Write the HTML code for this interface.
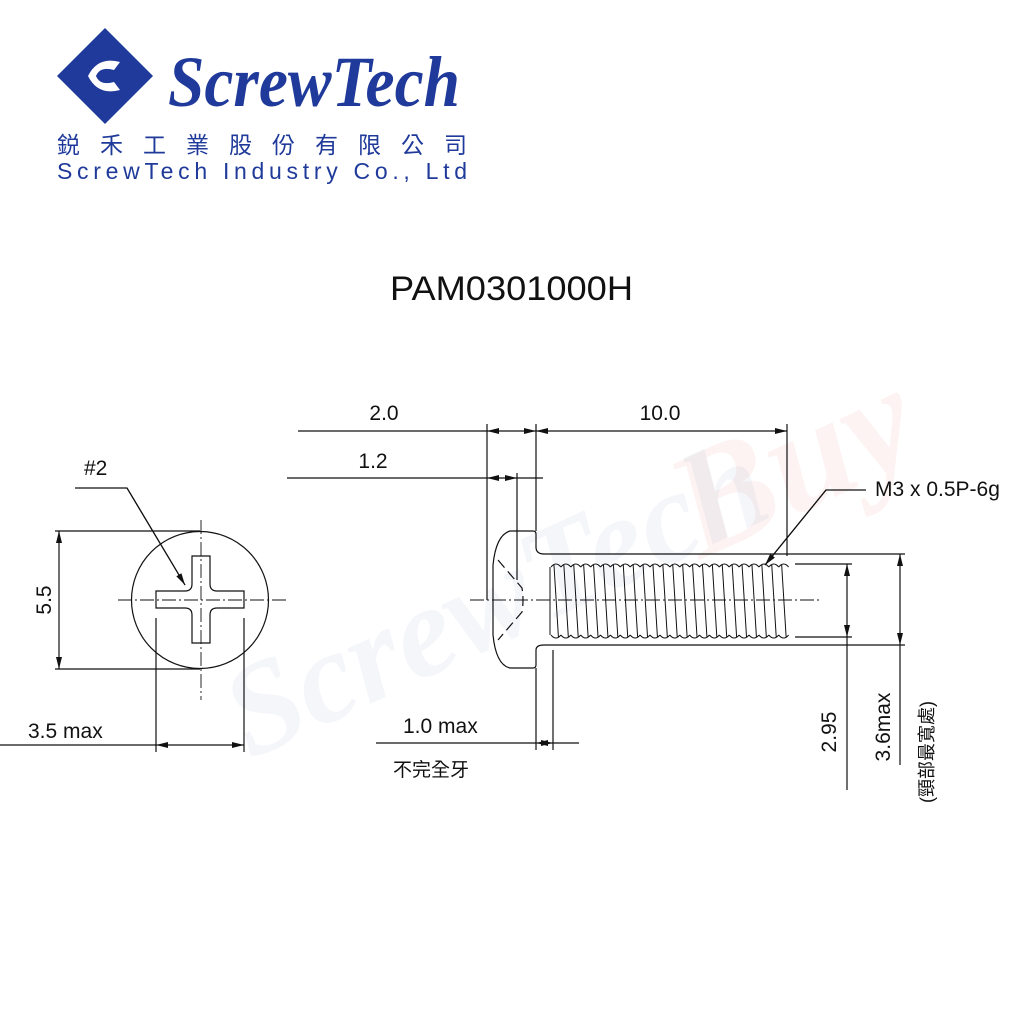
<!DOCTYPE html>
<html><head><meta charset="utf-8"><style>
html,body{margin:0;padding:0;background:#fff;width:1024px;height:1024px;overflow:hidden}
svg{position:absolute;left:0;top:0}
</style></head><body>
<svg width="1024" height="1024" viewBox="0 0 1024 1024" xmlns="http://www.w3.org/2000/svg">
<defs>
<marker id="a" viewBox="0 0 12 6" refX="12" refY="3" markerWidth="12" markerHeight="6" orient="auto-start-reverse" markerUnits="userSpaceOnUse"><path d="M0,0 L12,3 L0,6z" fill="#111"/></marker>
</defs>
<!-- watermark -->
<g opacity="0.045" fill="#2340a0" font-family="Liberation Serif,serif" font-style="italic" font-weight="bold">
<text x="250" y="760" font-size="130" transform="rotate(-25 250 760)">ScrewTech</text>
</g>
<text x="700" y="560" font-size="150" fill="#e03030" opacity="0.05" font-family="Liberation Serif,serif" font-style="italic" font-weight="bold" transform="rotate(-25 700 560)">Buy</text>

<!-- logo -->
<g fill="#1f3a9a">
<path d="M105,28 L153,76 L105,124 L57,76 Z"/>
<path d="M88,76 q10,-20 32,-14 l-6,8 q-14,-4 -18,6 q4,10 18,6 l6,8 q-22,6 -32,-14z" fill="#fff"/>
</g>
<text x="168" y="106" font-family="Liberation Serif,serif" font-weight="bold" font-style="italic" font-size="72" fill="#1f3a9a" textLength="292" lengthAdjust="spacingAndGlyphs">ScrewTech</text>
<text x="57" y="153" font-family="Liberation Sans,'Noto Sans CJK TC',sans-serif" font-size="23" fill="#1f3a9a" textLength="410" lengthAdjust="spacing">鋭禾工業股份有限公司</text>
<text x="57" y="179" font-family="Liberation Sans,sans-serif" font-size="23" fill="#1f3a9a" textLength="410" lengthAdjust="spacing">ScrewTech Industry Co., Ltd</text>

<text x="390" y="300" font-family="Liberation Sans,sans-serif" font-size="34" fill="#111" textLength="243" lengthAdjust="spacingAndGlyphs">PAM0301000H</text>

<g stroke="#111" stroke-width="1.2" fill="none">
<!-- left view -->
<circle cx="200" cy="600" r="68.5"/>
<path d="M201,520 V700 M118,600 H286" stroke-dasharray="14,3,2,3" stroke-width="0.9"/>
<path d="M192,556 H210 V584 Q210,591 217,591 H244 V608 H217 Q210,608 210,615 V643 H192 V615 Q192,608 185,608 H156 V591 H185 Q192,591 192,584 Z"/>
<path d="M55,531 H200 M55,669 H200"/>
<path d="M59,531 V669" marker-start="url(#a)" marker-end="url(#a)"/>
<path d="M156,618 V752 M244,618 V752"/>
<path d="M0,745 H156"/>
<path d="M156,745 H244" marker-start="url(#a)" marker-end="url(#a)"/>
<path d="M75,488 H127 L185,585" />
<path d="M127,488 L185,585" marker-end="url(#a)"/>

<!-- head -->
<path d="M533,531 H510 Q496,535 493,565 V635 Q496,665 510,668 H533 Q536,668 536,665 V650 Q536,645 544,645 M533,531 Q536,531 536,534 V547 Q536,554 544,554"/>
<path d="M498,560 L522,588 Q524,600 522,612 L498,640" stroke-dasharray="10,5"/>
<!-- shank -->
<path d="M544,554 H905 M544,645 H905"/>
<path d="M795,564 H852 M795,637 H852"/>
<path d="M470,600 H820" stroke-dasharray="14,3,2,3" stroke-width="0.9"/>
<path id="thr" stroke-width="1"/>
<!-- dims top -->
<path d="M487,424 V600 M536,424 V531 M536,668 V750 M787,424 V556 M517,473 V580 M553,650 V750"/>
<path d="M298,431 H487"/>
<path d="M487,431 H536" marker-start="url(#a)" marker-end="url(#a)"/>
<path d="M536,431 H787" marker-start="url(#a)" marker-end="url(#a)"/>
<path d="M287,478 H487"/>
<path d="M487,478 H517" marker-start="url(#a)" marker-end="url(#a)"/>
<path d="M517,478 H543"/>
<path d="M376,743 H536" />
<path d="M536,743 H553" marker-start="url(#a)" marker-end="url(#a)"/>
<path d="M553,743 H579"/>
<path d="M866,490 H826 L765,565" />
<path d="M826,490 L765,565" marker-end="url(#a)"/>
<path d="M847,564 V637" marker-start="url(#a)" marker-end="url(#a)"/>
<path d="M847,637 V790"/>
<path d="M900,554 V645" marker-start="url(#a)" marker-end="url(#a)"/>
<path d="M900,645 V765"/>
</g>
<g font-family="Liberation Sans,'Noto Sans CJK TC',sans-serif" font-size="21" fill="#111">
<text x="84" y="475">#2</text>
<text x="28" y="738">3.5 max</text>
<text transform="translate(51,600) rotate(-90)" text-anchor="middle">5.5</text>
<text x="384" y="420" text-anchor="middle">2.0</text>
<text x="373" y="468" text-anchor="middle">1.2</text>
<text x="660" y="420" text-anchor="middle">10.0</text>
<text x="403" y="733">1.0 max</text>
<text x="393" y="776" font-size="19">不完全牙</text>
<text x="875" y="496">M3 x 0.5P-6g</text>
<text transform="translate(836,732) rotate(-90)" text-anchor="middle">2.95</text>
<text transform="translate(890,727) rotate(-90)" text-anchor="middle">3.6max</text>
<text transform="translate(933,752) rotate(-90)" text-anchor="middle" font-size="18">(頸部最寬處)</text>
</g>
<script>
var d="",p=9.9,x0=551;
for(var i=0;i<24;i++){var x=x0+i*p;
d+="M"+x+",567 Q"+(x+p/2)+",561 "+(x+p)+",567 ";
d+="M"+x+",635 Q"+(x+p/2)+",641 "+(x+p)+",635 ";
d+="M"+(x+p*0.3)+",565 L"+(x+p*0.75)+",637 ";}
d+="M550,567 V635";
document.getElementById("thr").setAttribute("d",d);
</script>
</svg>
</body></html>
